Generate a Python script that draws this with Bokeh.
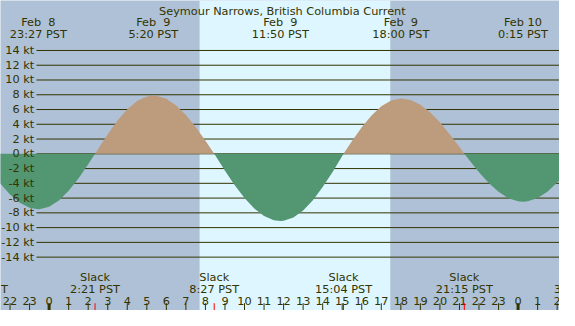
from bokeh.plotting import figure
from bokeh.models import Range1d
from bokeh.embed import file_html
from bokeh.resources import INLINE
from bokeh.core.properties import value

# ---------------- data (hours from Feb 9 00:00 PST) ----------------
title = "Seymour Narrows, British Columbia Current"

curve_t = [-2.5, -2.0, -1.5, -1.0, -0.5, 0.0, 0.5, 1.0, 1.5, 2.0,
           2.5, 3.0, 3.5, 4.0, 4.5, 5.0, 5.5, 6.0, 6.5, 7.0, 7.5, 8.0,
           8.5, 9.0, 9.5, 10.0, 10.5, 11.0, 11.5, 12.0, 12.5, 13.0, 13.5,
           14.0, 14.5, 15.0, 15.5, 16.0, 16.5, 17.0, 17.5, 18.5, 19.0,
           19.5, 20.0, 20.5, 21.0, 21.5, 22.0, 22.5, 23.0, 23.5, 24.0,
           24.5, 25.0, 25.5, 26.0, 26.5]
curve_v = [-4.03, -5.50, -6.62, -7.30, -7.50, -7.17, -6.32, -5.01, -3.34, -1.42,
           0.62, 2.65, 4.50, 6.04, 7.16, 7.78, 7.87, 7.46, 6.56, 5.27, 3.63, 1.78,
           -0.21, -2.30, -4.27, -6.00, -7.42, -8.43, -8.99, -9.07, -8.63, -7.68, -6.28,
           -4.51, -2.49, -0.31, 1.72, 3.59, 5.20, 6.45, 7.23, 7.28, 6.64,
           5.62, 4.27, 2.66, 0.91, -0.85, -2.49, -3.96, -5.15, -6.01, -6.44,
           -6.44, -6.00, -5.15, -3.90, -2.50]

ext_t = [-0.55, 5.333, 11.833, 18.0, 24.25]
ext_v = [-7.5, 7.9, -9.1, 7.5, -6.5]
ext_date = ["Feb\u00a0\u00a08", "Feb\u00a0\u00a09", "Feb\u00a0\u00a09", "Feb\u00a0\u00a09", "Feb 10"]
ext_time = ["23:27 PST", "5:20 PST", "11:50 PST", "18:00 PST", "0:15 PST"]

# slacks just outside the window: only a letter of each label shows
prev_slack_t = -3.6
next_slack_t = 27.1
slack_t = [2.35, 8.45, 15.067, 21.25]
slack_time = ["2:21 PST", "8:27 PST", "15:04 PST", "21:15 PST"]
clipped_left = "T"
clipped_right = "3"

sunrise = 7.70
sunset = 17.46

kt_ticks = [14, 12, 10, 8, 6, 4, 2, 0, -2, -4, -6, -8, -10, -12, -14]
hours = list(range(-2, 27))

# ---------------- styles / layout ----------------
NIGHT = "#AEC1D6"
DAY = "#DDF6FF"
FLOOD = "#BD9C7E"
EBB = "#529672"
INK = "#333300"
FONT = value("DejaVu Sans")
FS = "11.3px"

X0, X1 = -2.488, 26.12
Y0, Y1 = -21.23, 20.77

p = figure(width=559, height=310, x_range=Range1d(X0, X1), y_range=Range1d(Y0, Y1),
           output_backend="svg", toolbar_location=None, min_border=0,
           x_axis_type=None, y_axis_type=None)
p.background_fill_color = NIGHT
p.border_fill_color = NIGHT
p.outline_line_color = None
p.grid.visible = False

# day band
p.quad(left=[sunrise], right=[sunset], bottom=[Y0 - 1], top=[Y1 + 1],
       fill_color=DAY, line_color=None)

# horizontal kt lines
line_start = -0.647
p.segment(x0=[line_start] * len(kt_ticks), y0=kt_ticks,
          x1=[X1 + 1] * len(kt_ticks), y1=kt_ticks, line_color=INK, line_width=1)

# current curve: merge read points, extremes, slack points
pts = sorted(list(zip(curve_t, curve_v)) + list(zip(ext_t, ext_v)) +
             [(t, 0.0) for t in slack_t + [prev_slack_t, next_slack_t]])
xs = [a for a, b in pts]
vs = [b for a, b in pts]
pos = [max(v, 0.0) for v in vs]
neg = [min(v, 0.0) for v in vs]
p.varea(x=xs, y1=[0.0] * len(xs), y2=pos, fill_color=FLOOD)
p.varea(x=xs, y1=[0.0] * len(xs), y2=neg, fill_color=EBB)

# y labels
p.text(x=[-0.761] * len(kt_ticks), y=kt_ticks, text=[f"{k} kt" for k in kt_ticks],
       text_align="right", text_baseline="middle", text_font=FONT,
       text_font_size=FS, text_color=INK)

# title
p.text(x=[(X0 + X1) / 2 + 0.12], y=[19.31], text=[title], text_align="center",
       text_baseline="alphabetic", text_font=FONT, text_font_size=FS, text_color=INK)

# extremes labels at top
p.text(x=ext_t, y=[17.77] * len(ext_t), text=ext_date, text_align="center",
       text_baseline="alphabetic", text_font=FONT, text_font_size=FS, text_color=INK)
p.text(x=ext_t, y=[16.13] * len(ext_t), text=ext_time, text_align="center",
       text_baseline="alphabetic", text_font=FONT, text_font_size=FS, text_color=INK)

# slack labels at bottom
p.text(x=slack_t, y=[-16.81] * len(slack_t), text=["Slack"] * len(slack_t),
       text_align="center", text_baseline="alphabetic", text_font=FONT,
       text_font_size=FS, text_color=INK)
p.text(x=slack_t, y=[-18.36] * len(slack_t), text=slack_time,
       text_align="center", text_baseline="alphabetic", text_font=FONT,
       text_font_size=FS, text_color=INK)
p.text(x=[X0 + 0.02], y=[-18.36], text=[clipped_left], text_align="left",
       text_baseline="alphabetic", text_font=FONT, text_font_size=FS, text_color=INK)
p.text(x=[25.84], y=[-18.36], text=[clipped_right], text_align="left",
       text_baseline="alphabetic", text_font=FONT, text_font_size=FS, text_color=INK)

# hour labels and ticks
p.text(x=hours, y=[-19.95] * len(hours), text=[str(h % 24) for h in hours],
       text_align="center", text_baseline="alphabetic", text_font=FONT,
       text_font_size=FS, text_color=INK)
tick_top, tick_bot = -20.24, Y0 - 1
p.segment(x0=hours, y0=[tick_top] * len(hours), x1=hours, y1=[tick_bot] * len(hours),
          line_color=INK, line_width=[3 if h % 24 == 0 else 1 for h in hours])
p.segment(x0=slack_t, y0=[tick_top] * len(slack_t), x1=slack_t,
          y1=[tick_bot] * len(slack_t), line_color="#FF0000", line_width=1)

open("out.html", "w").write(file_html(p, INLINE))
